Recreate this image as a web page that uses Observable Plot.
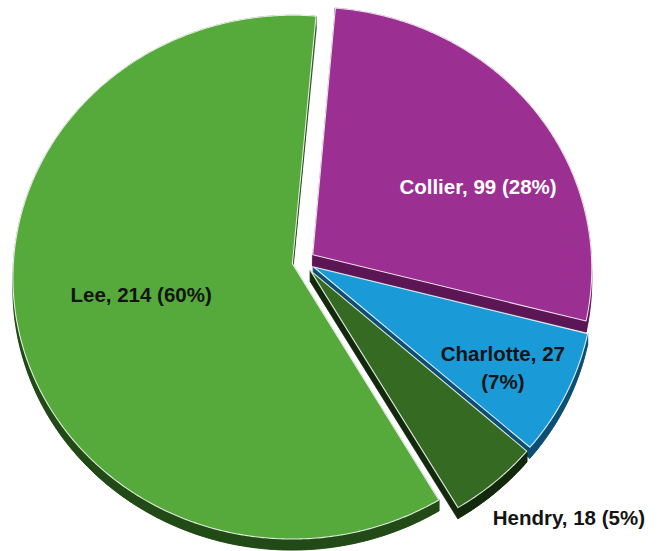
<!DOCTYPE html>
<html><head><meta charset="utf-8">
<script src="https://cdn.jsdelivr.net/npm/d3@7"></script>
<script src="https://cdn.jsdelivr.net/npm/@observablehq/plot@0.6"></script>
<style>body{margin:0;background:#fff}#chart{width:658px;height:551px}</style>
</head><body><div id="chart"></div>
<script>
// ---- data ----
const counties = ["Collier", "Charlotte", "Hendry", "Lee"];
const counts = [99, 27, 18, 214];
const shareLabels = ["28%", "7%", "5%", "60%"];
const topColors = ["#9c2f92", "#1a9ad6", "#356a23", "#55aa3b"];
const wallColors = ["#5c1655", "#0c4f74", "#13290c", "#214a16"];

// ---- layout / style ----
const W = 658, H = 551;
const geo = {cx: 302, cy: 261, rx: 279, ry: 261, persp: 0.0516, depth: 11, rotate: 5};
const explode = {Collier: 0.045, Charlotte: 0.045, Hendry: 0.045, Lee: 0.037};
const labelPlace = {
  Collier:   {dt: 11,   r: 0.66,  fill: "#ffffff", wrap: false},
  Charlotte: {dt: 1,    r: 0.76,  fill: "#141414", wrap: true},
  Hendry:    {dt: -5.3, r: 1.255, fill: "#141414", wrap: false},
  Lee:       {dt: 1,    r: 0.55,  fill: "#141414", wrap: false}
};
const drawOrder = ["Collier", "Charlotte", "Lee", "Hendry"];

const rad = Math.PI / 180;
function proj(u, v) {
  const s = 1 / (1 + geo.persp * v);
  return [geo.cx + geo.rx * u * s, geo.cy - geo.ry * v * s];
}

const arcs = d3.pie().sort(null)
  .startAngle(geo.rotate * rad).endAngle(geo.rotate * rad + 2 * Math.PI)(counts);

const slices = counties.map((name, i) => {
  const a0 = arcs[i].startAngle, a1 = arcs[i].endAngle, am = (a0 + a1) / 2;
  const e = explode[name];
  const eu = e * Math.sin(am), ev = e * Math.cos(am);
  const apex = proj(eu, ev);
  const n = Math.max(8, Math.ceil((a1 - a0) / (0.5 * rad)));
  const arc = d3.range(n + 1).map(k => {
    const t = a0 + (a1 - a0) * k / n;
    return proj(eu + Math.sin(t), ev + Math.cos(t));
  });
  const lp = labelPlace[name];
  const lt = am + lp.dt * rad;
  const lab = proj(eu + lp.r * Math.sin(lt), ev + lp.r * Math.cos(lt));
  return {name, i, apex, arc, lab};
});

const d = geo.depth;
const sh = p => [p[0], p[1] + d];
function rows(poly, id) { return poly.map(p => ({id, x: p[0], y: p[1]})); }

const marks = [];
for (const name of drawOrder) {
  const s = slices.find(q => q.name === name);
  const top = [s.apex, ...s.arc];
  const walls = [];
  walls.push(...rows(top.map(sh), name + "-shift"));
  walls.push(...rows([...s.arc, ...s.arc.slice().reverse().map(sh)], name + "-arc"));
  const first = s.arc[0], last = s.arc[s.arc.length - 1];
  walls.push(...rows([s.apex, first, sh(first), sh(s.apex)], name + "-r0"));
  walls.push(...rows([s.apex, last, sh(last), sh(s.apex)], name + "-r1"));
  marks.push(Plot.line(walls, {x: "x", y: "y", z: "id", fill: wallColors[s.i], stroke: wallColors[s.i], strokeWidth: 0.6, curve: "linear-closed"}));
  marks.push(Plot.line(rows(top, name + "-top"), {x: "x", y: "y", z: "id", fill: topColors[s.i], stroke: "#ffffff", strokeWidth: 1.1, strokeOpacity: 0.85, curve: "linear-closed"}));
}

const labels = slices.map(s => ({
  x: s.lab[0], y: s.lab[1], fill: labelPlace[s.name].fill,
  text: labelPlace[s.name].wrap
    ? `${s.name}, ${counts[s.i]}\n(${shareLabels[s.i]})`
    : `${s.name}, ${counts[s.i]} (${shareLabels[s.i]})`
}));
marks.push(Plot.text(labels, {x: "x", y: "y", text: "text", fill: "fill",
  fontSize: 20.5, fontWeight: "bold", fontFamily: "'Liberation Sans', Arial, sans-serif",
  textAnchor: "middle", lineAnchor: "middle", lineHeight: 1.38}));

const chart = Plot.plot({
  width: W, height: H, margin: 0,
  x: {domain: [0, W], range: [0, W], axis: null},
  y: {domain: [0, H], range: [0, H], axis: null},
  style: {background: "#fff"},
  marks
});
document.getElementById("chart").appendChild(chart);
</script>
</body></html>
